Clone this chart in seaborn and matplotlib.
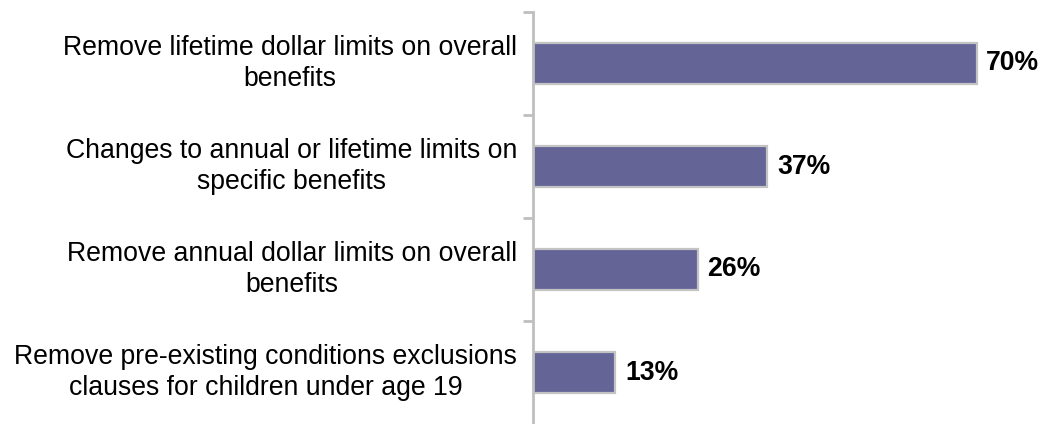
import matplotlib
matplotlib.use("Agg")
import matplotlib.pyplot as plt
import matplotlib.transforms as mtransforms
import seaborn as sns
import pandas as pd
from matplotlib.ticker import FixedLocator

categories = [
    "Remove lifetime dollar limits on overall\nbenefits",
    "Changes to annual or lifetime limits on\nspecific benefits",
    "Remove annual dollar limits on overall\nbenefits",
    "Remove pre-existing conditions exclusions\nclauses for children under age 19",
]
values = [70, 37, 26, 13]
value_labels = ["70%", "37%", "26%", "13%"]

sns.set_style("white")
plt.rcParams["font.family"] = ["Liberation Sans", "DejaVu Sans"]

df = pd.DataFrame({"category": categories, "value": values})

fig = plt.figure(figsize=(10.43, 4.24), dpi=100)
ax = fig.add_axes([533 / 1043, 0.0, (1000 - 533) / 1043, 1 - 12 / 424])

sns.barplot(data=df, x="value", y="category", orient="h", ax=ax,
            color="#646496", saturation=1, width=0.4,
            edgecolor="#c3c3c3", linewidth=1.6)

ax.set_xlim(0, (1000 - 535) / 6.31)
ax.set_ylim(3.5, -0.5)
ax.set_xlabel("")
ax.set_ylabel("")
ax.set_xticks([])

for s in ["top", "right", "bottom"]:
    ax.spines[s].set_visible(False)
ax.spines["left"].set_color("#bfbfbf")
ax.spines["left"].set_linewidth(2)

# short ticks between the categories, labels drawn as right-aligned blocks
ax.yaxis.set_minor_locator(FixedLocator([-0.5, 0.5, 1.5, 2.5]))
ax.tick_params(axis="y", which="minor", length=7, width=2, color="#bfbfbf", left=True)
ax.tick_params(axis="y", which="major", length=0, labelleft=False)

label_offset = mtransforms.offset_copy(ax.get_yaxis_transform(), fig=fig, x=-16, y=0, units="dots")
for i, cat in enumerate(categories):
    ax.text(0, i, cat, transform=label_offset, ha="right", va="center",
            multialignment="center", fontsize=19.2, color="black", linespacing=1.25)

for bar, txt in zip(ax.patches, value_labels):
    ax.annotate(txt, (bar.get_width(), bar.get_y() + bar.get_height() / 2),
                xytext=(7, 0), textcoords="offset points",
                ha="left", va="center", fontsize=19.2, fontweight="bold", color="black")

fig.savefig("out.png", dpi=100)
